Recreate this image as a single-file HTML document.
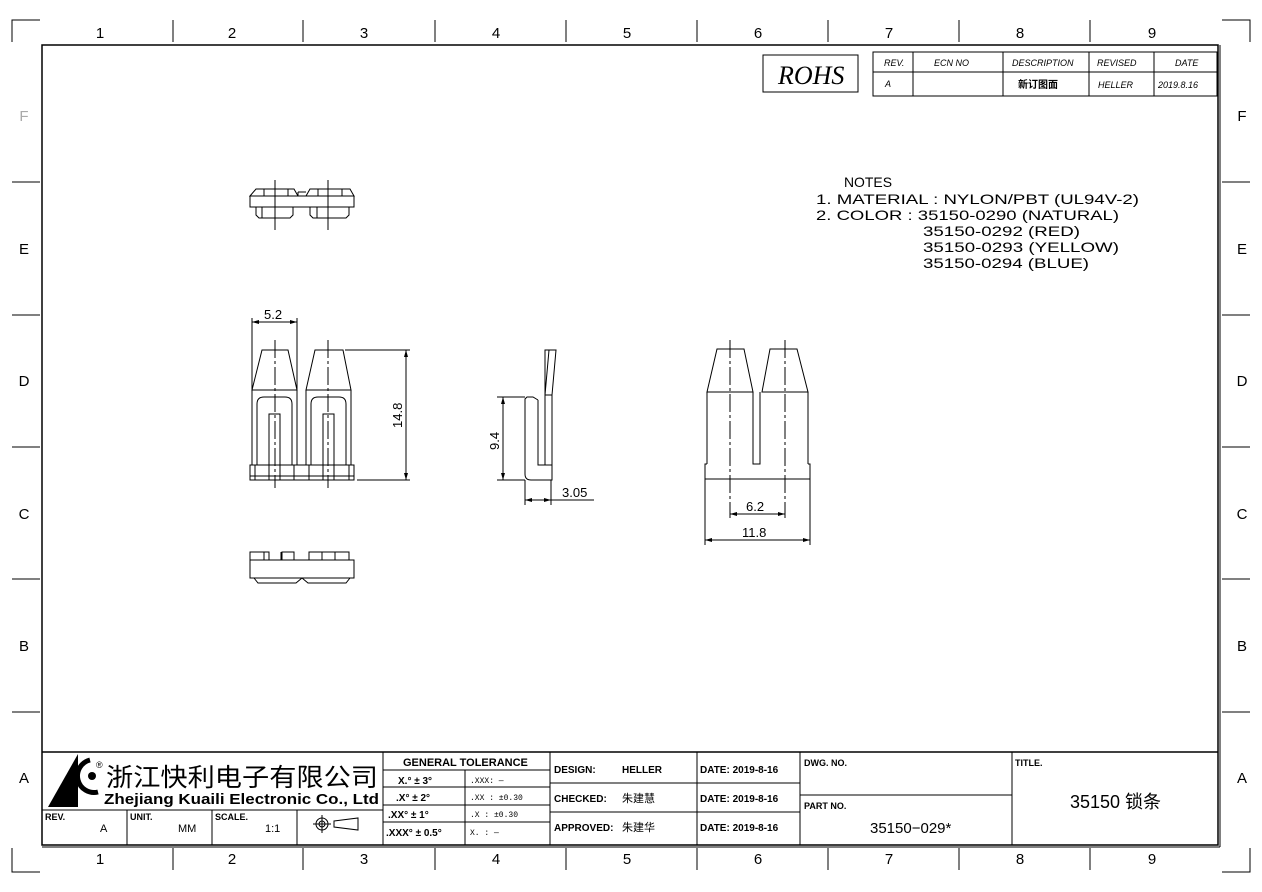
<!DOCTYPE html>
<html><head><meta charset="utf-8"><style>
html,body{margin:0;padding:0;background:#fff}
svg{display:block}
text{font-family:"Liberation Sans","Noto Sans CJK SC",sans-serif;fill:#000}
.m{font-family:"Liberation Mono","Noto Sans CJK SC",monospace}
.b{font-weight:bold}
.i{font-style:italic}
</style></head><body>
<svg width="1262" height="892" viewBox="0 0 1262 892" xmlns="http://www.w3.org/2000/svg">
<g fill="none" stroke="#000" stroke-width="1">
<polyline points="12,42 12,20 40,20"/>
<polyline points="1222,20 1250,20 1250,42"/>
<polyline points="12,848 12,872 40,872"/>
<polyline points="1222,872 1250,872 1250,848"/>
<rect x="42" y="45" width="1176" height="800" stroke-width="1.5"/>
<line x1="1220" y1="45" x2="1220" y2="847"/>
<line x1="42" y1="847" x2="1220" y2="847"/>
<g>
<line x1="173" y1="20" x2="173" y2="42"/><line x1="303" y1="20" x2="303" y2="42"/><line x1="435" y1="20" x2="435" y2="42"/><line x1="566" y1="20" x2="566" y2="42"/><line x1="697" y1="20" x2="697" y2="42"/><line x1="828" y1="20" x2="828" y2="42"/><line x1="959" y1="20" x2="959" y2="42"/><line x1="1090" y1="20" x2="1090" y2="42"/>
<line x1="173" y1="848" x2="173" y2="870"/><line x1="303" y1="848" x2="303" y2="870"/><line x1="435" y1="848" x2="435" y2="870"/><line x1="566" y1="848" x2="566" y2="870"/><line x1="697" y1="848" x2="697" y2="870"/><line x1="828" y1="848" x2="828" y2="870"/><line x1="959" y1="848" x2="959" y2="870"/><line x1="1090" y1="848" x2="1090" y2="870"/>
<line x1="12" y1="182" x2="40" y2="182"/><line x1="12" y1="315" x2="40" y2="315"/><line x1="12" y1="447" x2="40" y2="447"/><line x1="12" y1="579" x2="40" y2="579"/><line x1="12" y1="712" x2="40" y2="712"/>
<line x1="1222" y1="182" x2="1250" y2="182"/><line x1="1222" y1="315" x2="1250" y2="315"/><line x1="1222" y1="447" x2="1250" y2="447"/><line x1="1222" y1="579" x2="1250" y2="579"/><line x1="1222" y1="712" x2="1250" y2="712"/>
</g>
<rect x="763" y="55" width="95" height="37"/>
<rect x="873" y="52" width="344" height="44"/>
<line x1="873" y1="72" x2="1217" y2="72"/>
<line x1="913" y1="52" x2="913" y2="96"/><line x1="1003" y1="52" x2="1003" y2="96"/><line x1="1089" y1="52" x2="1089" y2="96"/><line x1="1154" y1="52" x2="1154" y2="96"/>
<line x1="42" y1="752" x2="1218" y2="752" stroke-width="1.5"/>
<line x1="42" y1="810" x2="383" y2="810"/>
<line x1="127" y1="810" x2="127" y2="845"/><line x1="212" y1="810" x2="212" y2="845"/><line x1="297" y1="810" x2="297" y2="845"/>
<line x1="383" y1="752" x2="383" y2="845"/>
<line x1="383" y1="770" x2="550" y2="770"/><line x1="383" y1="787" x2="550" y2="787"/><line x1="383" y1="805" x2="550" y2="805"/><line x1="383" y1="822" x2="550" y2="822"/>
<line x1="465" y1="770" x2="465" y2="845"/>
<line x1="550" y1="752" x2="550" y2="845"/>
<line x1="550" y1="783" x2="800" y2="783"/><line x1="550" y1="812" x2="800" y2="812"/>
<line x1="697" y1="752" x2="697" y2="845"/>
<line x1="800" y1="752" x2="800" y2="845"/>
<line x1="800" y1="795" x2="1012" y2="795"/>
<line x1="1012" y1="752" x2="1012" y2="845"/>
<circle cx="322" cy="824" r="6"/><circle cx="322" cy="824" r="3"/>
<line x1="313" y1="824" x2="331" y2="824"/><line x1="322" y1="815" x2="322" y2="833"/>
<polygon points="334,821 358,818 358,830 334,827"/>
</g>
<polygon points="48,807 78,754 78,807" fill="#000"/>
<path d="M90,760 a16,16 0 1 0 8,32" fill="none" stroke="#000" stroke-width="5"/>
<circle cx="92" cy="776" r="4" fill="#000"/>
<text x="96" y="768" font-size="9">®</text>
<text x="106" y="786" font-size="25" textLength="272" lengthAdjust="spacingAndGlyphs">浙江快利电子有限公司</text>
<text x="104" y="804" font-size="14.5" class="b" textLength="275" lengthAdjust="spacingAndGlyphs">Zhejiang Kuaili Electronic Co., Ltd</text>
<text x="45" y="820" font-size="9" class="b">REV.</text><text x="100" y="832" font-size="11">A</text>
<text x="130" y="820" font-size="9" class="b">UNIT.</text><text x="178" y="832" font-size="11">MM</text>
<text x="215" y="820" font-size="9" class="b">SCALE.</text><text x="265" y="832" font-size="11">1:1</text>
<text x="403" y="766" font-size="11" class="b">GENERAL  TOLERANCE</text>
<text x="398" y="784" font-size="10" class="b">X.° ± 3°</text>
<text x="396" y="801" font-size="10" class="b">.X° ± 2°</text>
<text x="388" y="818" font-size="10" class="b">.XX° ± 1°</text>
<text x="386" y="836" font-size="10" class="b">.XXX° ± 0.5°</text>
<text x="470" y="783" font-size="8" class="m">.XXX:  —</text>
<text x="470" y="800" font-size="8" class="m">.XX :  ±0.30</text>
<text x="470" y="817" font-size="8" class="m">.X  :  ±0.30</text>
<text x="470" y="835" font-size="8" class="m">X.  :  —</text>
<text x="554" y="773" font-size="10" class="b">DESIGN:</text><text x="622" y="773" font-size="10" class="b">HELLER</text>
<text x="554" y="802" font-size="10" class="b">CHECKED:</text><text x="622" y="802" font-size="11">朱建慧</text>
<text x="554" y="831" font-size="10" class="b">APPROVED:</text><text x="622" y="831" font-size="11">朱建华</text>
<text x="700" y="773" font-size="10" class="b">DATE: 2019-8-16</text>
<text x="700" y="802" font-size="10" class="b">DATE: 2019-8-16</text>
<text x="700" y="831" font-size="10" class="b">DATE: 2019-8-16</text>
<text x="804" y="766" font-size="9" class="b">DWG. NO.</text>
<text x="804" y="809" font-size="9" class="b">PART NO.</text>
<text x="870" y="833" font-size="15">35150−029*</text>
<text x="1015" y="766" font-size="9" class="b">TITLE.</text>
<text x="1070" y="808" font-size="18">35150 锁条</text>
<text x="778" y="84" font-size="26" class="i" style="font-family:'Liberation Serif',serif">ROHS</text>
<text x="884" y="66" font-size="9" class="i">REV.</text>
<text x="934" y="66" font-size="9" class="i">ECN  NO</text>
<text x="1012" y="66" font-size="9" class="i">DESCRIPTION</text>
<text x="1097" y="66" font-size="9" class="i">REVISED</text>
<text x="1175" y="66" font-size="9" class="i">DATE</text>
<text x="885" y="87" font-size="9" class="i">A</text>
<text x="1018" y="88" font-size="10" class="b">新订图面</text>
<text x="1098" y="88" font-size="9" class="i">HELLER</text>
<text x="1158" y="88" font-size="9" class="i">2019.8.16</text>
<g font-size="15" text-anchor="middle">
<text x="100" y="38">1</text><text x="232" y="38">2</text><text x="364" y="38">3</text><text x="496" y="38">4</text><text x="627" y="38">5</text><text x="758" y="38">6</text><text x="889" y="38">7</text><text x="1020" y="38">8</text><text x="1152" y="38">9</text>
<text x="100" y="864">1</text><text x="232" y="864">2</text><text x="364" y="864">3</text><text x="496" y="864">4</text><text x="627" y="864">5</text><text x="758" y="864">6</text><text x="889" y="864">7</text><text x="1020" y="864">8</text><text x="1152" y="864">9</text>
<text x="24" y="121" style="fill:#aaa">F</text><text x="24" y="254">E</text><text x="24" y="386">D</text><text x="24" y="519">C</text><text x="24" y="651">B</text><text x="24" y="783">A</text>
<text x="1242" y="121">F</text><text x="1242" y="254">E</text><text x="1242" y="386">D</text><text x="1242" y="519">C</text><text x="1242" y="651">B</text><text x="1242" y="783">A</text>
</g>
<g class="m" font-size="14">
<text x="844" y="187" textLength="48" lengthAdjust="spacingAndGlyphs">NOTES</text>
<text x="816" y="204" textLength="323" lengthAdjust="spacingAndGlyphs">1. MATERIAL : NYLON/PBT (UL94V-2)</text>
<text x="816" y="220" textLength="303" lengthAdjust="spacingAndGlyphs">2. COLOR : 35150-0290 (NATURAL)</text>
<text x="923" y="236" textLength="157" lengthAdjust="spacingAndGlyphs">35150-0292 (RED)</text>
<text x="923" y="252" textLength="196" lengthAdjust="spacingAndGlyphs">35150-0293 (YELLOW)</text>
<text x="923" y="268" textLength="166" lengthAdjust="spacingAndGlyphs">35150-0294 (BLUE)</text>
</g>
<g fill="none" stroke="#000" stroke-width="1">
<polygon points="250,196 256,189 294,189 298,196"/>
<polygon points="306,196 310,189 350,189 354,196"/>
<rect x="250" y="196" width="104" height="11"/>
<line x1="298" y1="196" x2="298" y2="192"/><line x1="298" y1="192" x2="306" y2="192"/>
<line x1="264" y1="189" x2="264" y2="196"/><line x1="288" y1="189" x2="288" y2="196"/>
<line x1="318" y1="189" x2="318" y2="196"/><line x1="342" y1="189" x2="342" y2="196"/>
<path d="M256,207 V215 L259,218 H290 L293,215 V207"/>
<path d="M310,207 V215 L313,218 H346 L349,215 V207"/>
<line x1="262" y1="207" x2="262" y2="218"/><line x1="317" y1="207" x2="317" y2="218"/>
<line x1="275" y1="180" x2="275" y2="230"/><line x1="328" y1="180" x2="328" y2="230"/>
<polygon points="252,390 262,350 288,350 297,390"/>
<polygon points="306,390 315,350 343,350 351,390"/>
<path d="M252,390 V465 M297,390 V465 M306,390 V465 M351,390 V465"/>
<path d="M257,465 V404 Q257,397 264,397 H285 Q292,397 292,404 V465"/>
<path d="M311,465 V404 Q311,397 318,397 H339 Q346,397 346,404 V465"/>
<rect x="269" y="414" width="11" height="51"/>
<rect x="323" y="414" width="11" height="51"/>
<rect x="250" y="465" width="104" height="15"/>
<line x1="255" y1="465" x2="255" y2="480"/><line x1="349" y1="465" x2="349" y2="480"/>
<line x1="269" y1="465" x2="269" y2="480"/><line x1="280" y1="465" x2="280" y2="480"/>
<line x1="323" y1="465" x2="323" y2="480"/><line x1="334" y1="465" x2="334" y2="480"/>
<line x1="294" y1="465" x2="294" y2="480"/><line x1="309" y1="465" x2="309" y2="480"/>
<line x1="250" y1="476" x2="354" y2="476"/>
<line x1="275" y1="340" x2="275" y2="488" stroke-dasharray="18,3,3,3"/>
<line x1="328" y1="340" x2="328" y2="488" stroke-dasharray="18,3,3,3"/>
<line x1="252" y1="318" x2="252" y2="390"/><line x1="297" y1="318" x2="297" y2="390"/>
<line x1="252" y1="322" x2="297" y2="322"/>
<line x1="345" y1="350" x2="410" y2="350"/><line x1="357" y1="480" x2="410" y2="480"/>
<line x1="406" y1="350" x2="406" y2="480"/>
<path d="M525,474 V399 L527,397 H533 L538,400"/>
<path d="M525,474 Q525,480 531,480 H552 V465 H545 V400"/>
<path d="M538,400 V465 H545"/>
<path d="M545,465 V350 H552 L556,350 L552,395 V465"/>
<line x1="549" y1="350" x2="545" y2="395"/>
<line x1="545" y1="395" x2="552" y2="395"/>
<line x1="497" y1="397" x2="525" y2="397"/><line x1="497" y1="480" x2="525" y2="480"/>
<line x1="503" y1="397" x2="503" y2="480"/>
<line x1="525" y1="480" x2="525" y2="505"/><line x1="551" y1="480" x2="551" y2="505"/>
<line x1="525" y1="500" x2="551" y2="500"/><line x1="551" y1="500" x2="594" y2="500"/>
<polygon points="707,392 717,349 744,349 753,392"/>
<polygon points="762,392 770,349 797,349 808,392"/>
<path d="M707,392 V464 M753,392 V464 H760 V392 M808,392 V464"/>
<path d="M707,464 H705 V479 H810 V464 H808"/>
<line x1="730" y1="340" x2="730" y2="518" stroke-dasharray="18,3,3,3"/>
<line x1="785" y1="340" x2="785" y2="518" stroke-dasharray="18,3,3,3"/>
<line x1="730" y1="514" x2="785" y2="514"/>
<line x1="705" y1="479" x2="705" y2="545"/><line x1="810" y1="479" x2="810" y2="545"/>
<line x1="705" y1="540" x2="810" y2="540"/>
<path d="M250,560 V552 H269 V560 M264,552 V560 M282,560 V552 H294 V560"/>
<path d="M281,552 V560 M309,560 V552 H322 V560 M322,552 H335 V560 M335,552 H349 V560"/>
<rect x="250" y="560" width="104" height="18"/>
<path d="M254,578 L258,583 H296 L302,578 L308,583 H346 L350,578"/>
</g>
<g fill="#000">
<polygon points="252,322 259,320 259,324"/><polygon points="297,322 290,320 290,324"/>
<polygon points="406,350 404,357 408,357"/><polygon points="406,480 404,473 408,473"/>
<polygon points="503,397 501,404 505,404"/><polygon points="503,480 501,473 505,473"/>
<polygon points="525,500 532,498 532,502"/><polygon points="551,500 544,498 544,502"/>
<polygon points="730,514 737,512 737,516"/><polygon points="785,514 778,512 778,516"/>
<polygon points="705,540 712,538 712,542"/><polygon points="810,540 803,538 803,542"/>
</g>
<g font-size="13">
<text x="264" y="319">5.2</text>
<text x="0" y="0" transform="translate(402,428) rotate(-90)">14.8</text>
<text x="0" y="0" transform="translate(499,450) rotate(-90)">9.4</text>
<text x="562" y="497">3.05</text>
<text x="746" y="511">6.2</text>
<text x="742" y="537">11.8</text>
</g>
</svg>
</body></html>
